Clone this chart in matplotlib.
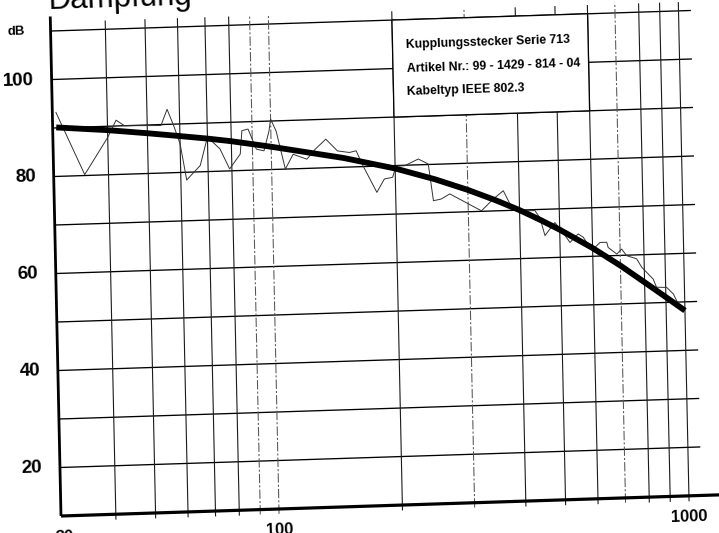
import numpy as np
import matplotlib
matplotlib.use("Agg")
import matplotlib.pyplot as plt
from matplotlib.transforms import Affine2D, offset_copy
from matplotlib.patches import Rectangle

# ---- data -------------------------------------------------------------
# measured attenuation trace (MHz, dB)
meas_freq = [30, 35, 40, 42, 44, 54, 56, 58, 60, 62, 67, 70, 75, 79, 84, 85,
             88, 92, 96, 99, 100, 103, 108, 113, 122, 128, 136, 145, 155, 161,
             167, 180, 188, 197, 201, 211, 228, 241, 247, 258, 271, 323, 345,
             366, 383, 416, 436, 448, 460, 487, 505, 529, 554, 570, 581, 608,
             626, 650, 655, 687, 706, 726, 767, 789, 840, 855, 905, 939, 964]
meas_db = [93.2, 80.2, 87.7, 91.2, 90.0, 89.8, 93.1, 89.7, 85.9, 78.4, 81.3,
           87.1, 84.6, 80.4, 83.4, 88.2, 88.5, 84.3, 83.9, 88.0, 90.4, 87.9,
           80.0, 83.0, 81.9, 83.9, 85.9, 83.4, 83.0, 83.3, 80.2, 74.6, 77.3,
           77.6, 79.9, 79.9, 81.2, 80.1, 72.5, 72.8, 73.8, 70.1, 72.4, 74.1,
           70.6, 69.8, 69.8, 68.3, 64.6, 67.2, 65.5, 63.0, 64.7, 64.0, 62.9,
           61.8, 62.8, 62.8, 61.7, 60.3, 61.3, 59.9, 59.2, 57.4, 54.9, 53.2,
           53.1, 51.7, 49.6]

# averaged attenuation curve (MHz, dB)
mean_freq = [30, 40, 50, 60, 70, 80, 100, 150, 200, 250, 300, 350, 400, 450,
             500, 600, 700, 800, 900, 1000]
mean_db = [90.1, 89.2, 88.3, 87.5, 86.8, 86.1, 84.7, 81.9, 79.4, 76.9, 74.5,
           72.2, 70.0, 67.8, 65.7, 61.7, 57.9, 54.3, 51.1, 48.2]

# grid and axis labelling
x_grid = [40, 50, 60, 70, 80, 90, 100, 200, 300, 400, 500, 600, 700, 800,
          900, 1000]
x_light = [90, 100, 300, 700]
y_grid = [20, 30, 40, 50, 60, 70, 80, 90, 100, 110]
x_labels = [30, 100, 1000]
y_labels = [20, 40, 60, 80, 100]
unit_label = "dB"
title = "Dämpfung"
info_lines = ["Kupplungsstecker Serie 713",
              "Artikel Nr.: 99 - 1429 - 814 - 04",
              "Kabeltyp IEEE 802.3"]
info_box = (200, 600, 90, 110)   # f_min, f_max, dB_min, dB_max

# ---- figure -----------------------------------------------------------
W, H, DPI = 719, 533, 100
fig = plt.figure(figsize=(W / DPI, H / DPI), dpi=DPI)
fig.patch.set_facecolor("white")

left_px, bottom_px = 61, 17
ax = fig.add_axes([left_px / W, bottom_px / H, (W - left_px) / W, (H - bottom_px) / H])
ax.set_xscale("log")
fmin, fmax = 29.4, 1184
ax.set_xlim(fmin, fmax)
ax.set_ylim(10, 116.4)
ax.axis("off")

# the printed sheet sits slightly askew: horizontals climb to the right,
# verticals lean to the left
kx, ky = 0.0215, 0.0321
sheet = Affine2D(np.array([[1.0, -kx, kx * bottom_px],
                           [ky, 1.0, -ky * left_px],
                           [0.0, 0.0, 1.0]]))
T = ax.transData + sheet
tilt = np.degrees(np.arctan(ky))

face = ["Liberation Sans", "DejaVu Sans"]

# grid
for v in y_grid:
    ax.plot([fmin, 1068], [v, v], color="black", lw=0.95, transform=T,
            clip_on=False, zorder=1)
for f in x_grid:
    if f in x_light:
        ax.plot([f, f], [9.0, 111.7], color="#555555", lw=0.75,
                ls=(0, (9, 2, 2, 2)), transform=T, clip_on=False, zorder=1)
    else:
        ax.plot([f, f], [9.0, 111.7], color="#1a1a1a", lw=0.8,
                transform=T, clip_on=False, zorder=1)

# white panel for the product information
f0, f1, d0, d1 = info_box
ax.add_patch(Rectangle((f0, d0), f1 - f0, d1 - d0, transform=T,
                       facecolor="white", edgecolor="black", lw=0.95,
                       clip_on=False, zorder=2))
for i, line in enumerate(info_lines):
    ax.text(216, 104.7 - 4.85 * i, line, transform=T, ha="left", va="center",
            family=face, fontweight="bold", fontsize=8.8, rotation=tilt,
            rotation_mode="anchor", clip_on=False, zorder=3)

# axes
ax.plot([fmin, fmin], [10, 113], color="black", lw=2.0, transform=T,
        clip_on=False, zorder=6, solid_capstyle="butt")
ax.plot([fmin, 1400], [10, 10], color="black", lw=2.3, transform=T,
        clip_on=False, zorder=6, solid_capstyle="butt")

# curves
ax.plot(meas_freq, meas_db, color="#333333", lw=0.7, transform=T,
        clip_on=False, zorder=4)
ax.plot(mean_freq, mean_db, color="black", lw=4.2, transform=T,
        clip_on=False, zorder=5, solid_capstyle="butt", solid_joinstyle="round")

# tick labels
ylab_tr = offset_copy(ax.transData, fig, x=-18, y=0, units="dots") + sheet
for v in y_labels:
    ax.text(fmin, v, str(v), transform=ylab_tr, ha="right", va="center",
            family=face, fontweight="bold", fontsize=13.5, rotation=tilt,
            rotation_mode="anchor", clip_on=False)
unit_tr = offset_copy(ax.transData, fig, x=-26, y=0, units="dots") + sheet
ax.text(fmin, 110, unit_label, transform=unit_tr, ha="right", va="center",
        family=face, fontweight="bold", fontsize=9.5, rotation=tilt,
        rotation_mode="anchor", clip_on=False)
xlab_tr = offset_copy(ax.transData, fig, x=0, y=-21, units="dots") + sheet
for f in x_labels:
    ax.text(f, 10, str(f), transform=xlab_tr, ha="center", va="center",
            family=face, fontweight="bold", fontsize=12, rotation=tilt,
            rotation_mode="anchor", clip_on=False)

# heading, mostly above the sheet edge
fig.text(48 / W, (H - 9) / H, title, ha="left", va="baseline",
         family=face, fontsize=22.5, rotation=tilt, rotation_mode="anchor")

fig.savefig("out.png", dpi=DPI, facecolor="white")
